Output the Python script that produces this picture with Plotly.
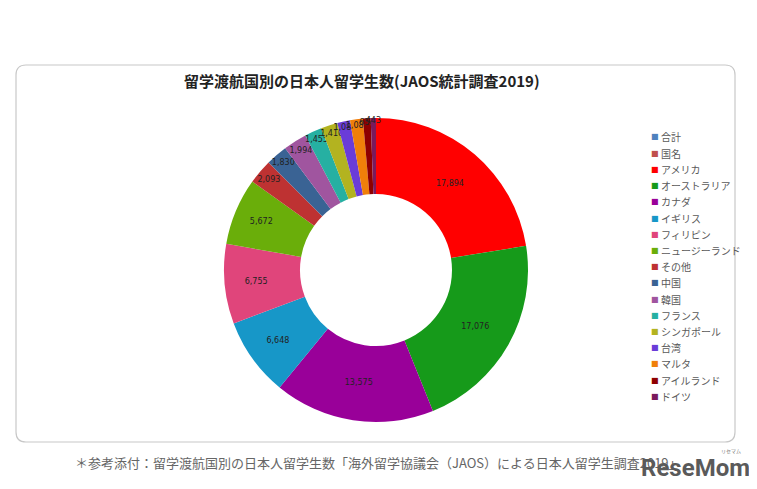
import plotly.graph_objects as go

W, H = 749, 481   # page body has an 8px margin
OFF = 8

categories = ["合計", "国名", "アメリカ", "オーストラリア", "カナダ", "イギリス", "フィリピン",
              "ニュージーランド", "その他", "中国", "韓国", "フランス", "シンガポール",
              "台湾", "マルタ", "アイルランド", "ドイツ"]
values = [0, 0, 17894, 17076, 13575, 6648, 6755, 5672, 2093, 1830, 1994, 1455, 1410,
          1083, 1086, 654, 443]
colors = ["#4F81BD", "#C0504D", "#FF0000", "#169A1A", "#990099", "#1797C8", "#E0457B",
          "#6AAE0A", "#BE3232", "#3A6394", "#A0559F", "#26B0A2", "#B3B320",
          "#6A3CD8", "#F07F0A", "#8E0000", "#7A1A5C"]

title_text = "留学渡航国別の日本人留学生数(JAOS統計調査2019)"
caption_text = "＊参考添付：留学渡航国別の日本人留学生数「海外留学協議会（JAOS）による日本人留学生調査2019」"


def px(x):
    return (x - OFF) / W


def py(y):
    return 1 - (y - OFF) / H


labels_text = [f"{v:,}" if v > 0 else "" for v in values]

fig = go.Figure()
fig.add_trace(go.Pie(
    labels=categories,
    values=values,
    text=labels_text,
    textinfo="text",
    textposition="inside",
    insidetextorientation="horizontal",
    hole=0.5,
    sort=False,
    direction="clockwise",
    rotation=0,
    marker=dict(colors=colors, line=dict(width=0)),
    textfont=dict(family="DejaVu Sans", size=8, color="#222222"),
    domain=dict(x=[px(376 - 152), px(376 + 152)], y=[py(422), py(118)]),
    showlegend=False,
    hoverinfo="label+value",
))

# rounded frame
x0, x1, y0, y1 = px(16), px(735), py(442), py(65)
rx, ry = 10 / W, 10 / H
path = (f"M {x0+rx},{y1} L {x1-rx},{y1} Q {x1},{y1} {x1},{y1-ry} "
        f"L {x1},{y0+ry} Q {x1},{y0} {x1-rx},{y0} L {x0+rx},{y0} "
        f"Q {x0},{y0} {x0},{y0+ry} L {x0},{y1-ry} Q {x0},{y1} {x0+rx},{y1} Z")
shapes = [dict(type="path", path=path, xref="paper", yref="paper",
               line=dict(color="#C8C8C8", width=1.2), fillcolor="rgba(0,0,0,0)", layer="below")]

annotations = [
    dict(text=f"<b>{title_text}</b>", x=px(362), y=py(80), xref="paper", yref="paper",
         showarrow=False, xanchor="center", yanchor="middle",
         font=dict(family="Noto Sans CJK JP", size=15, color="#222222")),
    dict(text=caption_text, x=px(73), y=py(462), xref="paper", yref="paper",
         showarrow=False, xanchor="left", yanchor="middle",
         font=dict(family="Noto Sans CJK JP", size=13, color="#666666")),
    dict(text="<b>ReseMom</b>", x=px(695), y=py(468), xref="paper", yref="paper",
         showarrow=False, xanchor="center", yanchor="middle",
         font=dict(family="Roboto", size=24, color="#5A5A5A")),
    dict(text="リセマム", x=px(731), y=py(451), xref="paper", yref="paper",
         showarrow=False, xanchor="center", yanchor="middle",
         font=dict(family="Noto Sans CJK JP", size=5, color="#777777")),
]

# legend built from the category list
for i, (c, col) in enumerate(zip(categories, colors)):
    yy = 137 + i * 16.2
    annotations.append(dict(text="■", x=px(655), y=py(yy), xref="paper", yref="paper",
                            showarrow=False, xanchor="center", yanchor="middle",
                            font=dict(family="DejaVu Sans", size=8, color=col)))
    annotations.append(dict(text=c, x=px(659), y=py(yy), xref="paper", yref="paper",
                            showarrow=False, xanchor="left", yanchor="middle",
                            font=dict(family="Noto Sans CJK JP", size=10, color="#595959")))

fig.update_layout(
    width=W, height=H,
    margin=dict(l=0, r=0, t=0, b=0),
    paper_bgcolor="white",
    plot_bgcolor="white",
    uniformtext=dict(minsize=8, mode="show"),
    shapes=shapes,
    annotations=annotations,
)

fig.write_html("out.html")
